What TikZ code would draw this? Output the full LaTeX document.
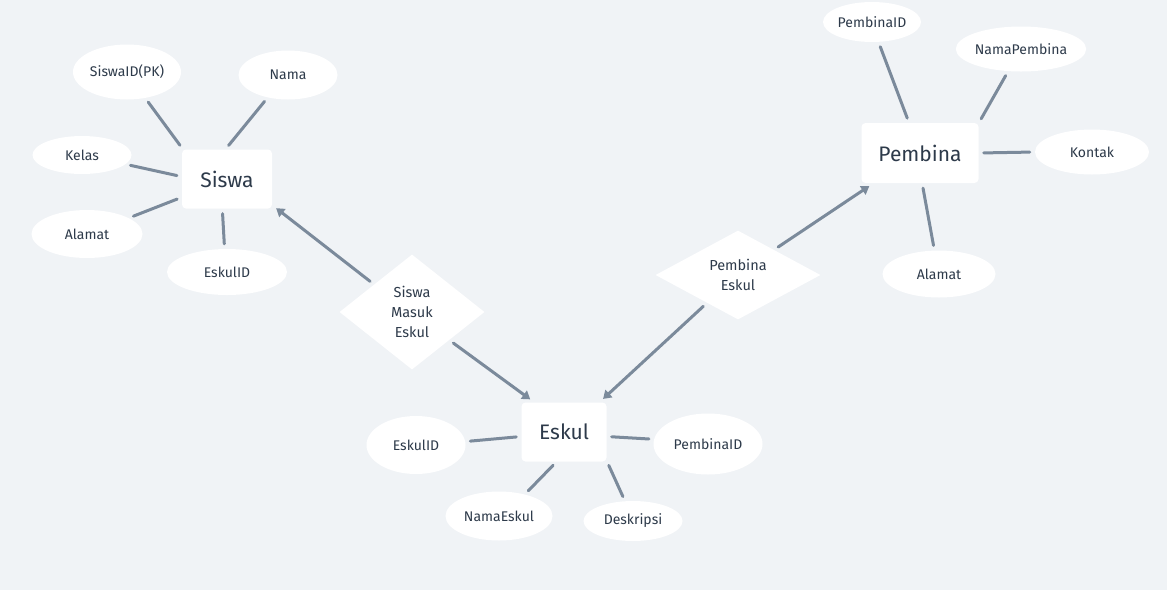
\documentclass[tikz,border=0pt]{standalone}
\usepackage{fontspec}
\setmainfont{Fira Sans}
\usetikzlibrary{shapes.geometric,arrows.meta}
\definecolor{bgcol}{HTML}{F0F3F6}
\definecolor{edgecol}{HTML}{7B8A9B}
\definecolor{txtcol}{HTML}{2D3A4A}
\begin{document}
\begin{tikzpicture}[x=1pt,y=-1pt]
				\tikzset{entity/.style={
						rectangle,
						rounded corners=4pt,
						fill=white,
						text=txtcol,
						font=\fontsize{21}{25}\selectfont},
					attr/.style={
						ellipse,
						fill=white,
						text=txtcol,
						inner sep=0pt,
						font=\fontsize{14}{17}\selectfont},
					relation/.style={
						diamond,
						fill=white,
						text=txtcol,
						align=center,
						inner sep=0pt,
						font=\fontsize{14.5}{20}\selectfont},
					link/.style={
						draw=edgecol,
						line width=3pt,
						line cap=round,
						shorten <=5pt,
						shorten >=5pt},
					arrowlink/.style={
						link,
						-{Triangle[length=8pt,width=10pt]}}
				}
				
				\fill[bgcol] (0,0) rectangle (1167,590);
				
				%% SISWA
				\node[entity, minimum width=90pt, minimum height=59pt] (Siswa) at (227,179) {Siswa};
				\node[attr, minimum width=108pt, minimum height=55pt] (SiswaID) at (127,72) {SiswaID(PK)};
				\node[attr, minimum width=99pt, minimum height=49pt] (SNama) at (288,75) {Nama};
				\node[attr, minimum width=99pt, minimum height=38pt] (SKelas) at (82,155) {Kelas};
				\node[attr, minimum width=111pt, minimum height=48pt] (SAlamat) at (87,234) {Alamat};
				\node[attr, minimum width=120pt, minimum height=46pt] (SEskulID) at (227,272) {EskulID};
				
				%% ESKUL
				\node[entity, minimum width=85pt, minimum height=59pt] (Eskul) at (564,432) {Eskul};
				\node[attr, minimum width=99pt, minimum height=58pt] (EEskulID) at (416,445) {EskulID};
				\node[attr, minimum width=109pt, minimum height=61pt] (EPembinaID) at (708,444) {PembinaID};
				\node[attr, minimum width=107pt, minimum height=49pt] (ENama) at (499,516) {NamaEskul};
				\node[attr, minimum width=99pt, minimum height=40pt] (EDesk) at (633,521) {Deskripsi};
				
				%% PEMBINA
				\node[entity, minimum width=117pt, minimum height=60pt] (Pembina) at (920,153) {Pembina};
				\node[attr, minimum width=98pt, minimum height=40pt] (PID) at (872,22) {PembinaID};
				\node[attr, minimum width=119pt, minimum height=45pt] (PNama) at (1021,49) {NamaPembina};
				\node[attr, minimum width=114pt, minimum height=45pt] (PKontak) at (1092,152) {Kontak};
				\node[attr, minimum width=113pt, minimum height=47pt] (PAlamat) at (939,274) {Alamat};
				
				%% RELATIONS
				\node[relation, minimum width=145pt, minimum height=115pt] (SME) at (412,312) {Siswa\\Masuk\\Eskul};
				\node[relation, minimum width=165pt, minimum height=81pt] (PE) at (738,275) {Pembina\\Eskul};
				
				\draw[link] (SiswaID.-55) -- (Siswa.146);
				\draw[link] (SNama.228) -- (Siswa.93);
				\draw[link] (SKelas.-12) -- (Siswa.177);
				\draw[link] (SAlamat.21) -- (Siswa.202);
				\draw[link] (SEskulID.96) -- (Siswa.261);
				
				\draw[link] (EEskulID.4) -- (Eskul.186);
				\draw[link] (EPembinaID.175) -- (Eskul.-6);
				\draw[link] (ENama.40) -- (Eskul.256);
				\draw[link] (EDesk.112) -- (Eskul.-34);
				
				\draw[link] (PID.-72) -- (Pembina.110);
				\draw[link] (PNama.240) -- (Pembina.27);
				\draw[link] (PKontak.180) -- (Pembina.0);
				\draw[link] (PAlamat.101) -- (Pembina.-86);
				
				\draw[arrowlink] (SME.144) -- (Siswa.-30);
				\draw[arrowlink] (SME.-37) -- (Eskul.135);
				\draw[arrowlink] (PE.222) -- (Eskul.40);
				\draw[arrowlink] (PE.35) -- (Pembina.213);
				
			\end{tikzpicture}
\end{document}
